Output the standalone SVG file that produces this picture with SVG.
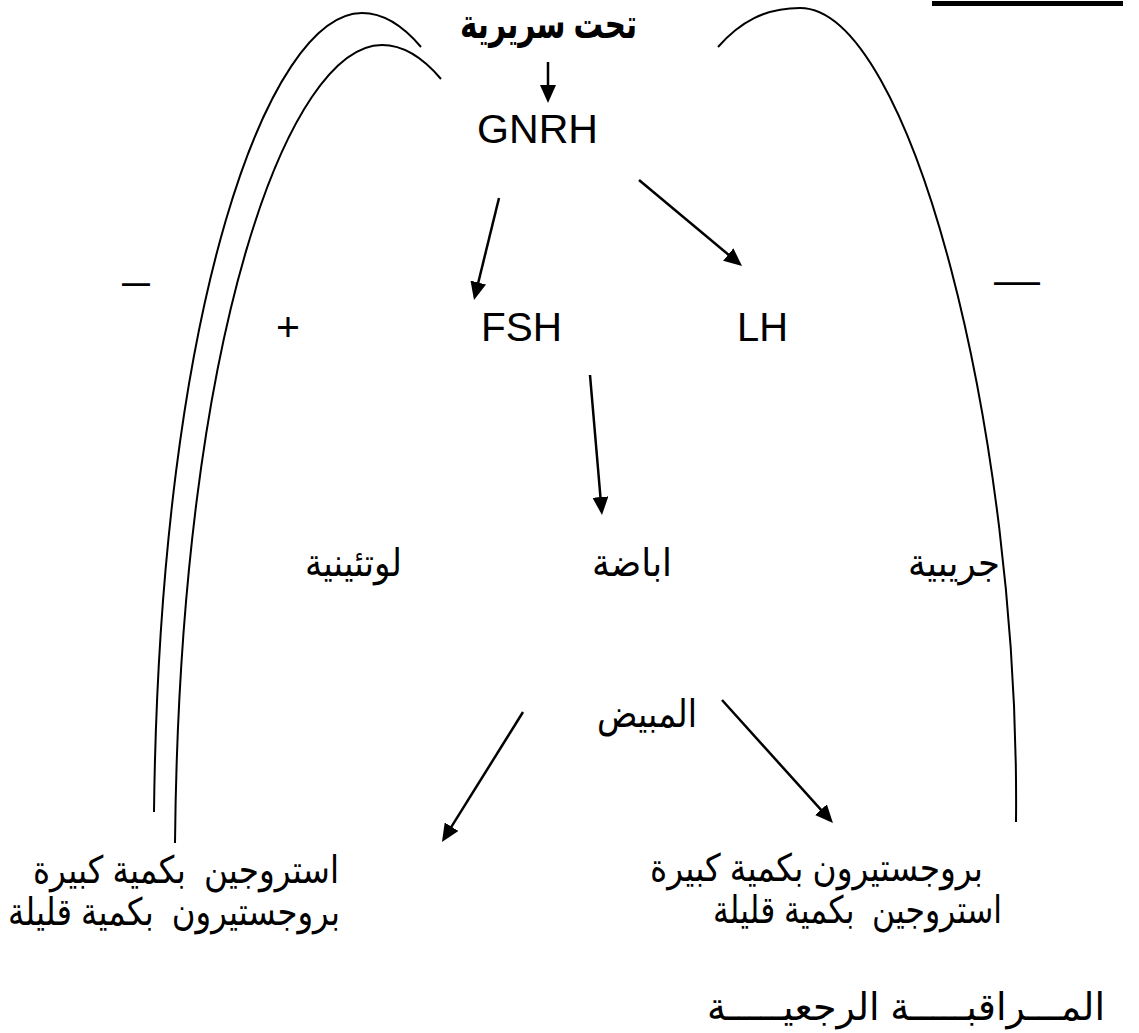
<svg xmlns="http://www.w3.org/2000/svg" width="1139" height="1033" viewBox="0 0 1139 1033">
<defs>
<marker id="ah" viewBox="0 0 18 16" refX="10" refY="8" markerWidth="18" markerHeight="16" markerUnits="userSpaceOnUse" orient="auto">
<path d="M0,0 L18,8 L0,16 z" fill="#000"/>
</marker>
<style>
.lat{font-family:"Liberation Sans","DejaVu Sans",sans-serif;font-size:41px;fill:#000}
.ar{font-family:"Liberation Sans","DejaVu Sans",sans-serif;font-size:38px;fill:#000;white-space:pre}
.arb{font-family:"Liberation Sans","DejaVu Sans",sans-serif;font-size:41px;font-weight:bold;fill:#000}
.arrow{stroke:#000;stroke-width:2.5;fill:none;marker-end:url(#ah)}
.curve{stroke:#000;stroke-width:2;fill:none}
</style>
</defs>
<rect width="1139" height="1033" fill="#fff"/>
<line x1="932" y1="3.5" x2="1123" y2="3.5" stroke="#000" stroke-width="5"/>
<g id="connectors">
<path class="curve" d="M154,812 C160,300 270,13 362,13 C385,13 405,28 421,47"/>
<path class="curve" d="M175,843 C180,330 290,45 382,45 C405,45 425,60 441,79"/>
<path class="curve" d="M718,47 C740,22 765,8 800,8 C910,8 1020,430 1016,822"/>
<line class="arrow" x1="548" y1="62" x2="548" y2="95"/>
<line class="arrow" x1="499" y1="198" x2="475.9" y2="292.2"/>
<line class="arrow" x1="639" y1="180" x2="735.9" y2="260.9"/>
<line class="arrow" x1="590" y1="375" x2="601.3" y2="507"/>
<line class="arrow" x1="523" y1="712" x2="446.2" y2="835.2"/>
<line class="arrow" x1="722" y1="700" x2="827.6" y2="817.1"/>
</g>
<g id="hypothalamus"><text class="arb" x="548.5" y="38" text-anchor="middle" textLength="177" lengthAdjust="spacingAndGlyphs">تحت سريرية</text></g>
<g id="gnrh"><text class="lat" x="477" y="143" textLength="121" lengthAdjust="spacingAndGlyphs">GNRH</text></g>
<g id="minus-left"><text class="lat" x="122" y="295" textLength="28" lengthAdjust="spacingAndGlyphs">–</text></g>
<g id="minus-right"><text class="lat" x="994" y="294" textLength="46" lengthAdjust="spacingAndGlyphs">—</text></g>
<g id="plus"><text class="lat" x="288" y="341" text-anchor="middle">+</text></g>
<g id="fsh"><text class="lat" x="481" y="341" textLength="81" lengthAdjust="spacingAndGlyphs">FSH</text></g>
<g id="lh"><text class="lat" x="737" y="341" textLength="51" lengthAdjust="spacingAndGlyphs">LH</text></g>
<g id="luteal"><text class="ar" x="353.5" y="576" text-anchor="middle" textLength="97" lengthAdjust="spacingAndGlyphs">لوتئينية</text></g>
<g id="ovulation"><text class="ar" x="632" y="576" text-anchor="middle" textLength="80" lengthAdjust="spacingAndGlyphs">اباضة</text></g>
<g id="follicular"><text class="ar" x="954" y="576" text-anchor="middle" textLength="92" lengthAdjust="spacingAndGlyphs">جريبية</text></g>
<g id="ovary"><text class="ar" x="647" y="727" text-anchor="middle" textLength="100" lengthAdjust="spacingAndGlyphs">المبيض</text></g>
<g id="left-result">
<text class="ar" xml:space="preserve" x="339" y="883" text-anchor="end" textLength="306" lengthAdjust="spacingAndGlyphs">استروجين  بكمية كبيرة</text>
<text class="ar" xml:space="preserve" x="340" y="925" text-anchor="end" textLength="332" lengthAdjust="spacingAndGlyphs">بروجستيرون  بكمية قليلة</text>
</g>
<g id="right-result">
<text class="ar" x="816.5" y="881" text-anchor="middle" textLength="333" lengthAdjust="spacingAndGlyphs">بروجستيرون بكمية كبيرة</text>
<text class="ar" xml:space="preserve" x="857.5" y="923" text-anchor="middle" textLength="289" lengthAdjust="spacingAndGlyphs">استروجين  بكمية قليلة</text>
</g>
<g id="feedback"><text class="ar" x="906" y="1020" text-anchor="middle" textLength="398" lengthAdjust="spacingAndGlyphs">المـــراقبـــــة الرجعيـــــة</text></g>
</svg>
